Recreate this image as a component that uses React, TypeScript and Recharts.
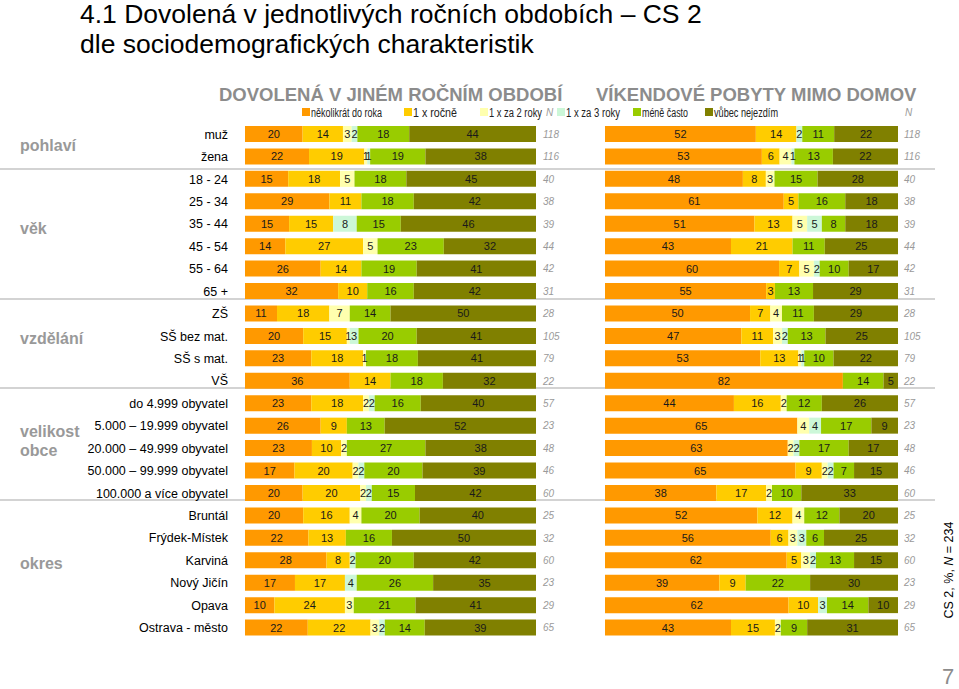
import React from 'react';
import { BarChart, Bar, XAxis, YAxis, LabelList } from 'recharts';

const categories = [
  'muž', 'žena',
  '18 - 24', '25 - 34', '35 - 44', '45 - 54', '55 - 64', '65 +',
  'ZŠ', 'SŠ bez mat.', 'SŠ s mat.', 'VŠ',
  'do 4.999 obyvatel', '5.000 – 19.999 obyvatel', '20.000 – 49.999 obyvatel',
  '50.000 – 99.999 obyvatel', '100.000 a více obyvatel',
  'Bruntál', 'Frýdek-Místek', 'Karviná', 'Nový Jičín', 'Opava', 'Ostrava - město',
];

const seriesKeys = ['often', 'yearly', 'twoYears', 'threeYears', 'less', 'never'];
const seriesNames = ['několikrát do roka', '1 x ročně', '1 x za 2 roky', '1 x za 3 roky', 'méně často', 'vůbec nejezdím'];
const seriesColors = ['#FF9900', '#FFCC00', '#FFFFAE', '#CCF7D8', '#99CC00', '#808000'];

// dovolená v jiném ročním období
const holidayOften = [20, 22, 15, 29, 15, 14, 26, 32, 11, 20, 23, 36, 23, 26, 23, 17, 20, 20, 22, 28, 17, 10, 22];
const holidayYearly = [14, 19, 18, 11, 15, 27, 14, 10, 18, 15, 18, 14, 18, 9, 10, 20, 20, 16, 13, 8, 17, 24, 22];
const holidayTwoYears = [3, 1, 5, 0, 0, 5, 0, 0, 7, 1, 1, 0, 2, 0, 2, 2, 2, 4, 0, 0, 0, 3, 3];
const holidayThreeYears = [2, 1, 0, 0, 8, 0, 0, 0, 0, 3, 0, 0, 2, 0, 0, 2, 2, 0, 0, 2, 4, 0, 2];
const holidayLess = [18, 19, 18, 18, 15, 23, 19, 16, 14, 20, 18, 18, 16, 13, 27, 20, 15, 20, 16, 20, 26, 21, 14];
const holidayNever = [44, 38, 45, 42, 46, 32, 41, 42, 50, 41, 41, 32, 40, 52, 38, 39, 42, 40, 50, 42, 35, 41, 39];

// víkendové pobyty mimo domov
const weekendOften = [52, 53, 48, 61, 51, 43, 60, 55, 50, 47, 53, 82, 44, 65, 63, 65, 38, 52, 56, 62, 39, 62, 43];
const weekendYearly = [14, 6, 8, 5, 13, 21, 7, 3, 7, 11, 13, 0, 16, 0, 0, 9, 17, 12, 6, 5, 9, 10, 15];
const weekendTwoYears = [0, 4, 3, 0, 5, 0, 5, 0, 4, 3, 1, 0, 2, 4, 2, 2, 2, 4, 3, 3, 0, 0, 2];
const weekendThreeYears = [2, 1, 0, 0, 5, 0, 2, 0, 0, 2, 1, 0, 0, 4, 2, 2, 0, 0, 3, 2, 0, 3, 0];
const weekendLess = [11, 13, 15, 16, 8, 11, 10, 13, 11, 13, 10, 14, 12, 17, 17, 7, 10, 12, 6, 13, 22, 14, 9];
const weekendNever = [22, 22, 28, 18, 18, 25, 17, 29, 29, 25, 22, 5, 26, 9, 17, 15, 33, 20, 25, 15, 30, 10, 31];

const respondents = [118, 116, 40, 38, 39, 44, 42, 31, 28, 105, 79, 22, 57, 23, 48, 46, 60, 25, 32, 60, 23, 29, 65];

const groups = [
  { lines: ['pohlaví'], y: 151 },
  { lines: ['věk'], y: 234 },
  { lines: ['vzdělání'], y: 344 },
  { lines: ['velikost', 'obce'], y: 437 },
  { lines: ['okres'], y: 569 },
];
const separatorsY = [169, 299, 388, 500];

const FONT = 'Arial, "Liberation Sans", sans-serif';

const nByCat: Record<string, number> = {};
categories.forEach((c, i) => (nByCat[c] = respondents[i]));

function toRows(series: number[][]) {
  return categories.map((cat, i) => {
    const row: Record<string, string | number> = { cat };
    seriesKeys.forEach((k, j) => (row[k] = series[j][i]));
    return row;
  });
}

const holidayRows = toRows([holidayOften, holidayYearly, holidayTwoYears, holidayThreeYears, holidayLess, holidayNever]);
const weekendRows = toRows([weekendOften, weekendYearly, weekendTwoYears, weekendThreeYears, weekendLess, weekendNever]);

const renderValue = (props: any) => {
  const { x, y, width, height } = props.viewBox ?? props;
  if (!props.value) return null;
  return (
    <text x={x + width / 2} y={y + height / 2} dy={4} textAnchor="middle" fontSize={11} fill="#1a1a1a" fontFamily={FONT}>
      {props.value}
    </text>
  );
};

function Panel({ data, width, marginLeft, labelWidth, nWidth, nMargin }: any) {
  return (
    <BarChart
      width={width}
      height={689}
      data={data}
      layout="vertical"
      stackOffset="expand"
      margin={{ top: 123, right: 0, bottom: 50, left: marginLeft }}
    >
      <XAxis type="number" domain={[0, 1]} hide />
      <YAxis
        yAxisId="cat"
        type="category"
        dataKey="cat"
        width={labelWidth || 0}
        hide={!labelWidth}
        interval={0}
        axisLine={false}
        tickLine={false}
        tickSize={0}
        tickMargin={17}
        tick={{ fill: '#000', fontSize: 12.5, fontFamily: FONT }}
      />
      <YAxis
        yAxisId="n"
        orientation="right"
        type="category"
        dataKey="cat"
        width={nWidth}
        interval={0}
        axisLine={false}
        tickLine={false}
        tickSize={0}
        tickMargin={nMargin}
        tickFormatter={(v: string) => String(nByCat[v])}
        tick={{ fill: '#9a9a9a', fontSize: 10, fontStyle: 'italic', fontFamily: FONT, textAnchor: 'start' }}
      />
      {seriesKeys.map((k, j) => (
        <Bar key={k} dataKey={k} stackId="a" yAxisId="cat" fill={seriesColors[j]} barSize={16} isAnimationActive={false}>
          <LabelList dataKey={k} content={renderValue} />
        </Bar>
      ))}
    </BarChart>
  );
}

// legend placement (condensed text like the original)
const legendX = [302, 404, 480, 557, 633, 705];
const legendTextWidth = [71, 44, 53, 54, 46, 64];

export default function App() {
  return (
    <div style={{ position: 'absolute', left: 0, top: 0, width: 959, height: 689, background: '#fff', fontFamily: FONT }}>
      <svg width={959} height={689} style={{ position: 'absolute', left: 0, top: 0 }}>
        <text x={80} y={23} fontSize={26.5} fill="#000" fontFamily={FONT}>
          4.1 Dovolená v jednotlivých ročních obdobích – CS 2
        </text>
        <text x={80} y={53} fontSize={26.5} fill="#000" fontFamily={FONT}>
          dle sociodemografických charakteristik
        </text>
        <text x={219} y={101} fontSize={18.5} fontWeight="bold" fill="#8c8c8c" fontFamily={FONT}>
          DOVOLENÁ V JINÉM ROČNÍM OBDOBÍ
        </text>
        <text x={596} y={101} fontSize={18.5} fontWeight="bold" fill="#8c8c8c" fontFamily={FONT}>
          VÍKENDOVÉ POBYTY MIMO DOMOV
        </text>
        {seriesNames.map((name, j) => (
          <g key={name}>
            <rect x={legendX[j]} y={108} width={8} height={8} fill={seriesColors[j]} />
            <text
              x={legendX[j] + 9}
              y={116.5}
              fontSize={12.5}
              fill="#222"
              fontFamily={FONT}
              textLength={legendTextWidth[j]}
              lengthAdjust="spacingAndGlyphs"
            >
              {name}
            </text>
          </g>
        ))}
        <text x={546} y={116} fontSize={10} fontStyle="italic" fill="#9a9a9a" fontFamily={FONT}>N</text>
        <text x={905} y={116} fontSize={10} fontStyle="italic" fill="#9a9a9a" fontFamily={FONT}>N</text>
        {separatorsY.map((y) => (
          <line key={y} x1={0} x2={935} y1={y} y2={y} stroke="#c4c4c4" strokeWidth={1.5} />
        ))}
        {groups.map((g) =>
          g.lines.map((line, i) => (
            <text key={line} x={20} y={g.y + i * 19} fontSize={16} fontWeight="bold" fill="#999" fontFamily={FONT}>
              {line}
            </text>
          ))
        )}
        <text
          transform="translate(953 570) rotate(-90)"
          textAnchor="middle"
          fontSize={12.5}
          fill="#000"
          fontFamily={FONT}
        >
          CS 2, %, <tspan fontStyle="italic">N</tspan> = 234
        </text>
        <text x={948} y={684} textAnchor="middle" fontSize={22} fill="#8c8c8c" fontFamily={FONT}>7</text>
      </svg>
      <div style={{ position: 'absolute', left: 0, top: 0 }}>
        <Panel data={holidayRows} width={575} marginLeft={0} labelWidth={245} nWidth={39} nMargin={7} />
      </div>
      <div style={{ position: 'absolute', left: 575, top: 0 }}>
        <Panel data={weekendRows} width={384} marginLeft={30} labelWidth={0} nWidth={61} nMargin={6} />
      </div>
    </div>
  );
}
